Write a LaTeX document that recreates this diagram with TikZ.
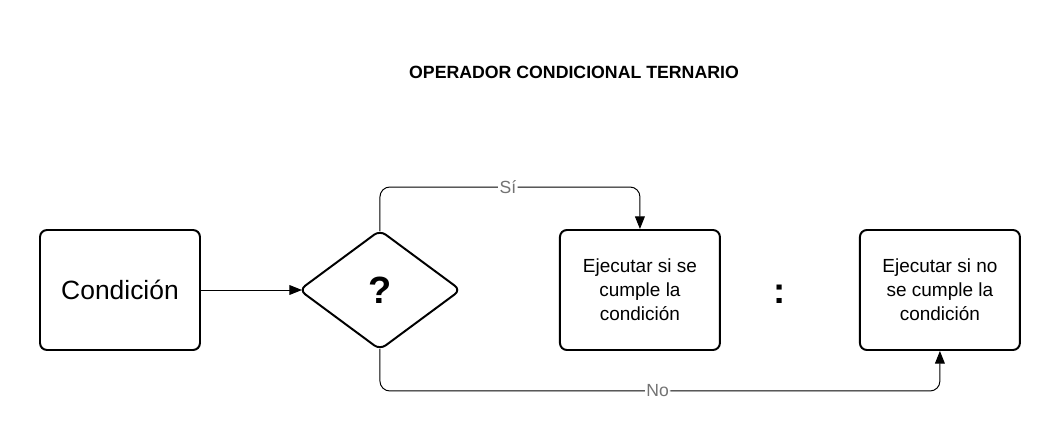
\documentclass[tikz,border=0pt]{standalone}
\usepackage{fontspec}
\setmainfont{Liberation Sans}
\usetikzlibrary{arrows.meta,positioning,shapes.geometric}

\begin{document}
\begin{tikzpicture}[>={Triangle[length=9pt,width=7pt]},
  caja/.style={draw,line width=1.4pt,rounded corners=5pt,minimum width=4cm,minimum height=3cm,align=center,font=\fontsize{13.5}{17}\selectfont},
  rombo/.style={draw,diamond,line width=1.4pt,rounded corners=5pt,minimum width=4.05cm,minimum height=3cm,inner sep=0pt},
  flecha/.style={->,line width=0.7pt,rounded corners=7pt},
  etiqueta/.style={fill=white,inner sep=1pt,text=black!55,font=\fontsize{12.5}{14}\selectfont}]
\useasboundingbox (0,-3.8) rectangle (26.5,7.25);
\node (titulo) at (14.35,5.45) {\fontsize{12.6}{14}\selectfont\bfseries OPERADOR CONDICIONAL TERNARIO};
\node (cond) [caja] at (3,0) {\fontsize{18.8}{22}\selectfont Condición};
\node (pregunta) [rombo,right=2.425cm of cond] {\fontsize{27}{30}\selectfont\bfseries ?};
\node (si) [caja,right=2.425cm of pregunta] {Ejecutar si se\\cumple la\\condición};
\node (no) [caja,right=3.45cm of si] {Ejecutar si no\\se cumple la\\condición};
\node (dospuntos) at (19.5,-0.1) {\fontsize{26}{30}\selectfont\bfseries :};
% conexiones
\draw[flecha,shorten >=-0.1cm] (cond) -- (pregunta);
\draw[flecha,shorten <=-0.05cm] (pregunta.north) -- ++(0,1.05) -| node[etiqueta,pos=0.246] {Sí} (si.north);
\draw[flecha,shorten <=-0.05cm] (pregunta.south) -- ++(0,-1.0) -| node[etiqueta,pos=0.248] {No} (no.south);
\end{tikzpicture}
\end{document}
